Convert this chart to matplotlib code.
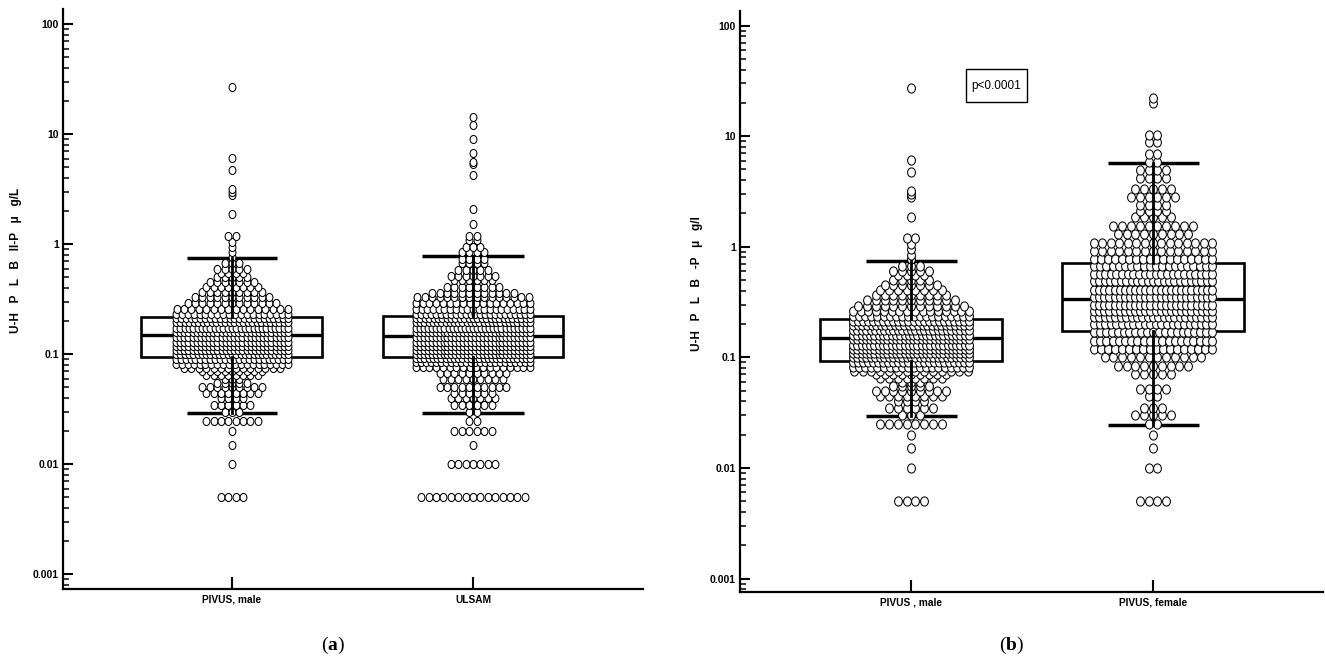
import numpy as np
import matplotlib
matplotlib.use("Agg")
import matplotlib.pyplot as plt
from matplotlib.path import Path
from matplotlib.patches import Rectangle
from matplotlib.ticker import LogLocator, NullFormatter

plt.rcParams['font.family'] = ['Liberation Sans Narrow', 'Liberation Sans', 'DejaVu Sans']
plt.rcParams['mathtext.fontset'] = 'custom'
plt.rcParams['mathtext.rm'] = 'Liberation Serif'
plt.rcParams['mathtext.bf'] = 'Liberation Serif:bold'

# ---- data (value level -> number of dots) ----
pivus_male_levels = [0.005, 0.01, 0.015, 0.02, 0.025, 0.03, 0.035, 0.04, 0.045, 0.05,
                     0.055, 0.06, 0.065, 0.07, 0.075, 0.082, 0.09, 0.1, 0.11, 0.12,
                     0.13, 0.145, 0.16, 0.175, 0.195, 0.215, 0.235, 0.26, 0.29, 0.33,
                     0.37, 0.41, 0.45, 0.5, 0.55, 0.6, 0.67, 0.77, 0.85, 0.95,
                     1.05, 1.2, 1.87, 2.8, 3.0, 3.2, 4.7, 6.1, 27]
pivus_male_counts = [4, 1, 1, 1, 8, 3, 6, 4, 8, 9,
                     5, 3, 8, 9, 14, 20, 24, 27, 28, 28,
                     28, 28, 28, 27, 26, 24, 20, 16, 13, 11,
                     9, 8, 7, 5, 4, 5, 3, 1, 1, 1,
                     1, 2, 1, 1, 1, 1, 1, 1, 1]

ulsam_levels = [0.005, 0.01, 0.015, 0.02, 0.025, 0.03, 0.035, 0.04, 0.045, 0.05,
                0.06, 0.067, 0.077, 0.085, 0.093, 0.1, 0.11, 0.12, 0.13, 0.145,
                0.16, 0.175, 0.195, 0.215, 0.235, 0.26, 0.29, 0.33, 0.36, 0.41,
                0.47, 0.52, 0.58, 0.67, 0.74, 0.85, 0.95, 1.09, 1.2, 1.54,
                2.1, 4.3, 5.4, 5.6, 6.7, 9.1, 12.1, 14.4]
ulsam_counts = [15, 7, 1, 6, 2, 2, 6, 7, 6, 10,
                9, 10, 18, 24, 28, 30, 30, 30, 30, 30,
                30, 29, 28, 27, 24, 21, 18, 16, 12, 8,
                6, 7, 5, 4, 4, 4, 3, 2, 2, 1,
                1, 1, 1, 1, 1, 1, 1, 1]

pivus_female_levels = [0.005, 0.01, 0.015, 0.02, 0.025, 0.03, 0.035, 0.045, 0.052, 0.071,
                       0.084, 0.1, 0.12, 0.14, 0.17, 0.2, 0.23, 0.26, 0.3, 0.35,
                       0.41, 0.49, 0.57, 0.67, 0.77, 0.92, 1.08, 1.3, 1.55, 1.84,
                       2.1, 2.4, 2.8, 3.3, 4.2, 4.9, 5.8, 6.9, 8.8, 10.3,
                       20, 22]
pivus_female_counts = [4, 2, 1, 1, 2, 5, 3, 2, 4, 5,
                       9, 12, 18, 20, 21, 22, 23, 24, 24, 24,
                       24, 23, 22, 20, 18, 15, 15, 9, 10, 5,
                       4, 4, 6, 5, 4, 4, 2, 2, 2, 2,
                       1, 1]

# box stats: lower whisker, Q1, median, Q3, upper whisker
box_pivus_male_a = [0.0295, 0.095, 0.15, 0.22, 0.746]
box_ulsam = [0.0295, 0.095, 0.146, 0.223, 0.78]
box_pivus_male_b = [0.0297, 0.093, 0.151, 0.223, 0.747]
box_pivus_female = [0.0245, 0.173, 0.336, 0.714, 5.75]

labels_a = ['PIVUS, male', 'ULSAM']
labels_b = ['PIVUS , male', 'PIVUS, female']
ylabel_a = 'U-H   P   L   B   II-P   \u03bc   g/L'
ylabel_b = 'U-H   P   L   B   -P   \u03bc   g/l'
yticks = [0.001, 0.01, 0.1, 1, 10, 100]
ytick_labels = ['0.001', '0.01', '0.1', '1', '10', '100']

W, H = 1325, 668
circ = Path.unit_circle()
ellipse = Path(circ.vertices * np.array([0.85, 1.0]), circ.codes)


def rect(left, right, top, bottom):
    return [left / W, 1 - bottom / H, (right - left) / W, (bottom - top) / H]


def swarm(ax, xc, levels, counts, px_unit, step_px, span_px, ms):
    xs, ys = [], []
    for v, n in zip(levels, counts):
        step = min(step_px, span_px / (n - 1)) if n > 1 else 0
        offs = (np.arange(n) - (n - 1) / 2) * step / px_unit
        xs.extend(xc + offs)
        ys.extend([v] * n)
    ax.plot(xs, ys, linestyle='none', marker=ellipse, ms=ms, mfc='white',
            mec='black', mew=0.75, zorder=3)


def boxplot(ax, xc, stats, px_unit, box_px, cap_px):
    lo, q1, med, q3, hi = stats
    hw = box_px / 2 / px_unit
    cw = cap_px / 2 / px_unit
    ax.add_patch(Rectangle((xc - hw, q1), 2 * hw, q3 - q1, fill=False,
                           lw=1.9, ec='black', zorder=1))
    ax.plot([xc - hw, xc + hw], [med, med], color='black', lw=2.4, zorder=1,
            solid_capstyle='butt')
    for w in (lo, hi):
        ax.plot([xc - cw, xc + cw], [w, w], color='black', lw=2.5, zorder=2,
                solid_capstyle='butt')
    ax.plot([xc, xc], [q3, hi], color='black', lw=2.0, zorder=4)
    ax.plot([xc, xc], [lo, q1], color='black', lw=2.0, zorder=4)


def style_axis(ax, xlim, ylim, labels):
    ax.set_yscale('log')
    ax.set_xlim(*xlim)
    ax.set_ylim(*ylim)
    for s in ('top', 'right'):
        ax.spines[s].set_visible(False)
    for s in ('left', 'bottom'):
        ax.spines[s].set_linewidth(1.6)
    ax.set_yticks(yticks, labels=ytick_labels)
    ax.yaxis.set_minor_locator(LogLocator(base=10, subs=np.arange(2, 10)))
    ax.yaxis.set_minor_formatter(NullFormatter())
    ax.tick_params(axis='y', which='major', direction='in', length=7, width=1.5,
                   pad=3, labelsize=7.5)
    ax.tick_params(axis='y', which='minor', direction='in', length=4.3, width=1.1)
    ax.set_xticks([1, 2], labels=labels)
    ax.tick_params(axis='x', direction='in', length=8.5, width=1.5, pad=4,
                   labelsize=7.3)
    for t in ax.get_xticklabels() + ax.get_yticklabels():
        t.set_fontweight('bold')


fig = plt.figure(figsize=(W / 100, H / 100), dpi=100)

# panel (a)
ax_a = fig.add_axes(rect(63, 643, 9.4, 589.3))
pa = 241.0
swarm(ax_a, 1, pivus_male_levels, pivus_male_counts, pa, 7.4, 112, 5.8)
swarm(ax_a, 2, ulsam_levels, ulsam_counts, pa, 7.4, 114, 5.8)
boxplot(ax_a, 1, box_pivus_male_a, pa, 181, 90)
boxplot(ax_a, 2, box_ulsam, pa, 180, 102)
style_axis(ax_a, (1 - 169 / pa, 2 + 170 / pa),
           (10 ** (-3 - 14.9 / 110), 10 ** (2 + 14.9 / 110)), labels_a)

# panel (b)
ax_b = fig.add_axes(rect(740, 1323, 10.7, 591.7))
pb = 242.0
swarm(ax_b, 1, pivus_male_levels, pivus_male_counts, pb, 8.8, 116, 6.6)
swarm(ax_b, 2, pivus_female_levels, pivus_female_counts, pb, 8.8, 118, 6.6)
boxplot(ax_b, 1, box_pivus_male_b, pb, 182, 91)
boxplot(ax_b, 2, box_pivus_female, pb, 182, 91)
style_axis(ax_b, (1 - 171 / pb, 2 + 170 / pb),
           (10 ** (-3 - 13.2 / 110.6), 10 ** (2 + 14.9 / 110.6)), labels_b)

# y-axis labels
fig.text(16 / W, 1 - 260 / H, ylabel_a, rotation=90, ha='center', va='center',
         fontsize=8.5, fontweight='bold')
fig.text(697 / W, 1 - 284 / H, ylabel_b, rotation=90, ha='center', va='center',
         fontsize=8.5, fontweight='bold')

# p-value box
fig.patches.append(Rectangle((966 / W, 1 - 102 / H), 61 / W, 32.5 / H, fill=False,
                             lw=1.0, ec='black', transform=fig.transFigure))
fig.text(996.5 / W, 1 - 86 / H, 'p<0.0001', ha='center', va='center', fontsize=8.5,
         family=['Liberation Sans', 'DejaVu Sans'])

# panel letters
fig.text(333 / W, 1 - 645 / H, r'($\mathbf{a}$)', ha='center', va='center',
         fontsize=14, family='Liberation Serif')
fig.text(1012 / W, 1 - 645 / H, r'($\mathbf{b}$)', ha='center', va='center',
         fontsize=14, family='Liberation Serif')

fig.savefig('out.png', dpi=100)
